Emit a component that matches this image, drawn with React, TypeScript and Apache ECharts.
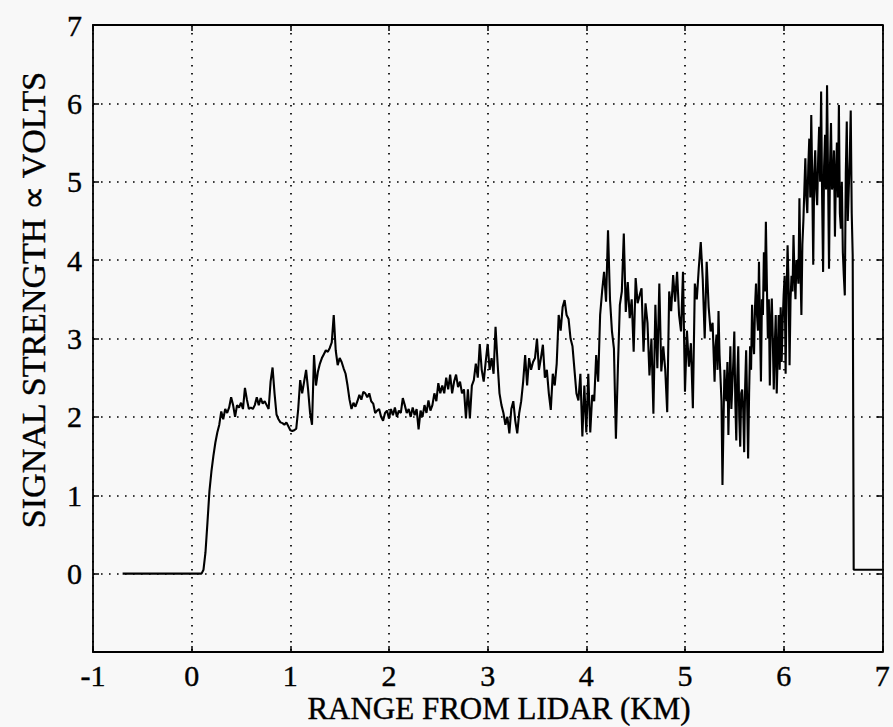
import { useEffect, useRef } from "react";
import * as echarts from "echarts";

// Lidar return, near part: sampled every 0.02 km from 0.10 km to 5.28 km
const NEAR_START_KM = 0.1;
const NEAR_STEP_KM = 0.02;
const NEAR_SIGNAL_V = [
  0, 0.05, 0.27, 0.65, 1.05, 1.3, 1.5, 1.67, 1.8, 1.9,
  2.07, 1.97, 2.1, 2.05, 2.12, 2.25, 2.15, 2.0, 2.15, 2.12,
  2.18, 2.1, 2.37, 2.22, 2.1, 2.12, 2.1, 2.15, 2.25, 2.15,
  2.24, 2.17, 2.2, 2.15, 2.1, 2.45, 2.63, 2.3, 2.03, 1.97,
  1.93, 1.92, 1.9, 1.93, 1.88, 1.83, 1.82, 1.83, 1.85, 2.1,
  2.47, 2.3, 2.45, 2.6, 2.35, 2.05, 1.9, 2.79, 2.4, 2.58,
  2.68, 2.75, 2.8, 2.85, 2.83, 2.88, 2.95, 3.3, 2.85, 2.66,
  2.75, 2.7, 2.62, 2.55, 2.4, 2.22, 2.1, 2.18, 2.13, 2.2,
  2.28, 2.22, 2.32, 2.3, 2.25, 2.3, 2.2, 2.17, 2.05, 2.08,
  2.1, 2.0, 1.95, 2.05, 2.08, 1.98, 2.1, 2.02, 2.12, 2.0,
  2.08, 2.05, 2.24, 2.15, 2.05, 2.1, 2.0, 2.12, 2.02, 2.1,
  1.84, 2.08, 2.0, 2.15, 2.05, 2.21, 2.08, 2.15, 2.3, 2.2,
  2.43, 2.3, 2.4, 2.3, 2.5, 2.35, 2.54, 2.3, 2.45, 2.54,
  2.38, 2.45, 2.3, 2.35, 1.98, 2.35, 1.98, 2.4, 2.47, 2.68,
  2.5, 2.93, 2.6, 2.45, 2.7, 2.93, 2.6, 2.75, 2.55, 3.15,
  2.7, 2.3, 2.15, 2.05, 1.9, 2.0, 1.79, 2.1, 2.2, 1.95,
  1.79, 2.05, 2.2, 2.45, 2.79, 2.4, 2.75, 2.6, 2.7, 2.75,
  3.0, 2.6, 2.75, 2.92, 2.5, 2.6, 2.3, 2.09, 2.55, 2.4,
  2.68, 3.3, 3.1, 3.4, 3.49, 3.3, 3.25, 3.0, 2.9, 2.6,
  2.3, 2.21, 2.55, 1.75, 2.4, 1.8, 2.55, 1.8, 2.28, 2.2,
  2.79, 2.45, 3.3, 3.6, 3.85, 3.47, 4.38, 3.5, 3.09, 2.87,
  1.72, 2.62, 3.43, 3.6, 4.34, 3.34, 3.72, 3.26, 3.5, 2.83,
  3.77, 3.45, 3.55, 3.64, 2.83, 3.45, 3.2, 2.53, 3.0, 2.04,
  3.43, 2.62, 3.7, 2.58, 2.9, 2.6, 2.06, 3.6, 3.35, 3.81,
  3.47, 3.85, 3.3, 3.09, 3.85, 2.32, 3.1, 2.64, 2.94, 2.11,
  3.7, 3.5, 3.9, 4.23, 3.76, 3.0, 3.98, 3.4, 3.09, 3.2,
];

// Far part, where the return gets noisy: sampled every 0.01 km from 5.30 km to 6.70 km
const FAR_START_KM = 5.3;
const FAR_STEP_KM = 0.01;
const FAR_SIGNAL_V = [
  2.45, 2.9, 3.05, 2.6, 3.35, 2.8, 2.5, 2.2, 1.13, 1.9,
  2.6, 2.3, 2.2, 2.7, 1.77, 2.4, 2.9, 2.1, 2.4, 2.7,
  3.09, 2.2, 1.7, 2.5, 2.9, 2.0, 1.62, 2.3, 2.35, 2.1,
  1.55, 2.4, 2.85, 2.2, 1.47, 2.3, 2.9, 2.6, 3.43, 3.0,
  2.8, 3.4, 3.7, 3.3, 3.1, 3.98, 3.2, 2.45, 3.5, 3.3,
  4.1, 3.6, 4.49, 3.7, 3.0, 3.5, 2.4, 3.2, 3.51, 3.0,
  2.35, 2.9, 3.3, 2.3, 2.8, 3.3, 2.6, 3.4, 2.7, 3.2,
  3.55, 3.8, 2.55, 3.6, 4.19, 3.7, 2.66, 3.5, 3.8, 3.6,
  4.32, 3.8, 3.5, 4.0, 3.9, 3.7, 4.79, 3.9, 3.3, 4.2,
  4.5, 4.9, 5.3, 4.8, 4.6, 5.2, 5.55, 4.8, 5.85, 5.0,
  3.94, 5.1, 5.4, 4.9, 4.7, 5.3, 5.7, 5.0, 6.15, 4.8,
  3.85, 5.2, 5.6, 4.9, 6.23, 5.1, 3.89, 5.2, 5.75, 4.9,
  5.0, 5.4, 4.3, 5.1, 5.5, 4.8, 5.98, 4.6, 4.4, 5.0,
  4.1, 3.8, 3.55, 5.1, 5.77, 4.5, 4.9, 5.3, 5.91, 4.6,
  4.06,
];

// Flat baseline before the pulse, and the cut-off at the end of the record
const LEAD_IN: [number, number][] = [[-0.7, 0]];
const TAIL: [number, number][] = [
  [6.71, 0.05],
  [7.0, 0.05],
];

const X_MIN = -1;
const X_MAX = 7;
const Y_MIN = -1;
const Y_MAX = 7;

const X_TITLE = "RANGE FROM LIDAR (KM)";
const Y_TITLE = "SIGNAL STRENGTH \u221D VOLTS";

const FONT = "'Liberation Serif', 'Times New Roman', serif";
const INK = "#000";

const sampled = (start: number, step: number, values: number[]) =>
  values.map((v, i) => [+(start + i * step).toFixed(3), v] as [number, number]);

export default function App() {
  const ref = useRef<HTMLDivElement>(null);

  useEffect(() => {
    if (!ref.current) return;
    const chart = echarts.init(ref.current, undefined, { renderer: "svg" });

    const trace: [number, number][] = [
      ...LEAD_IN,
      ...sampled(NEAR_START_KM, NEAR_STEP_KM, NEAR_SIGNAL_V),
      ...sampled(FAR_START_KM, FAR_STEP_KM, FAR_SIGNAL_V),
      ...TAIL,
    ];

    const gridLine = {
      show: true,
      lineStyle: { color: "#000", width: 1.7, type: [1.6, 6.4] as any },
    };
    const frameLine = { show: true, onZero: false, lineStyle: { color: INK, width: 1.8 } };
    const inTick = { show: true, inside: true, length: 6, lineStyle: { color: INK, width: 1.5 } };
    const tickText = {
      color: INK,
      fontFamily: FONT,
      fontSize: 30,
      textBorderColor: INK,
      textBorderWidth: 0.4,
    };
    const titleText = {
      text: "",
      fill: INK,
      font: `32px ${FONT}`,
      stroke: INK,
      lineWidth: 0.4,
      textAlign: "center",
      textVerticalAlign: "middle",
    };

    chart.setOption({
      animation: false,
      backgroundColor: "#f8f8f8",
      grid: { left: 93, right: 2, top: 25, bottom: 75, containLabel: false },
      xAxis: [
        {
          type: "value",
          min: X_MIN,
          max: X_MAX,
          interval: 1,
          axisLine: frameLine,
          axisTick: inTick,
          splitLine: gridLine,
          axisLabel: { ...tickText, margin: 8 },
        },
        {
          type: "value",
          position: "top",
          min: X_MIN,
          max: X_MAX,
          interval: 1,
          axisLine: frameLine,
          axisTick: inTick,
          splitLine: { show: false },
          axisLabel: { show: false },
        },
      ],
      yAxis: [
        {
          type: "value",
          min: Y_MIN,
          max: Y_MAX,
          interval: 1,
          axisLine: frameLine,
          axisTick: inTick,
          splitLine: gridLine,
          axisLabel: {
            ...tickText,
            margin: 11,
            formatter: (v: number) => (v === Y_MIN ? "" : String(v)),
          },
        },
        {
          type: "value",
          position: "right",
          min: Y_MIN,
          max: Y_MAX,
          interval: 1,
          axisLine: frameLine,
          axisTick: inTick,
          splitLine: { show: false },
          axisLabel: { show: false },
        },
      ],
      graphic: [
        {
          type: "text",
          x: 499,
          y: 708,
          style: { ...titleText, text: X_TITLE, font: `31px ${FONT}` },
        },
        {
          type: "text",
          x: 33,
          y: 300,
          rotation: Math.PI / 2,
          style: { ...titleText, text: Y_TITLE, font: `34px ${FONT}` },
        },
      ],
      series: [
        {
          type: "line",
          data: trace,
          xAxisIndex: 0,
          yAxisIndex: 0,
          showSymbol: false,
          symbol: "none",
          lineStyle: { color: INK, width: 2.1 },
          z: 5,
        },
      ],
    });

    return () => chart.dispose();
  }, []);

  return (
    <div
      style={{
        position: "fixed",
        left: 0,
        top: 0,
        width: 893,
        height: 727,
        background: "#f8f8f8",
      }}
    >
      <div ref={ref} style={{ width: 893, height: 727 }} />
    </div>
  );
}
